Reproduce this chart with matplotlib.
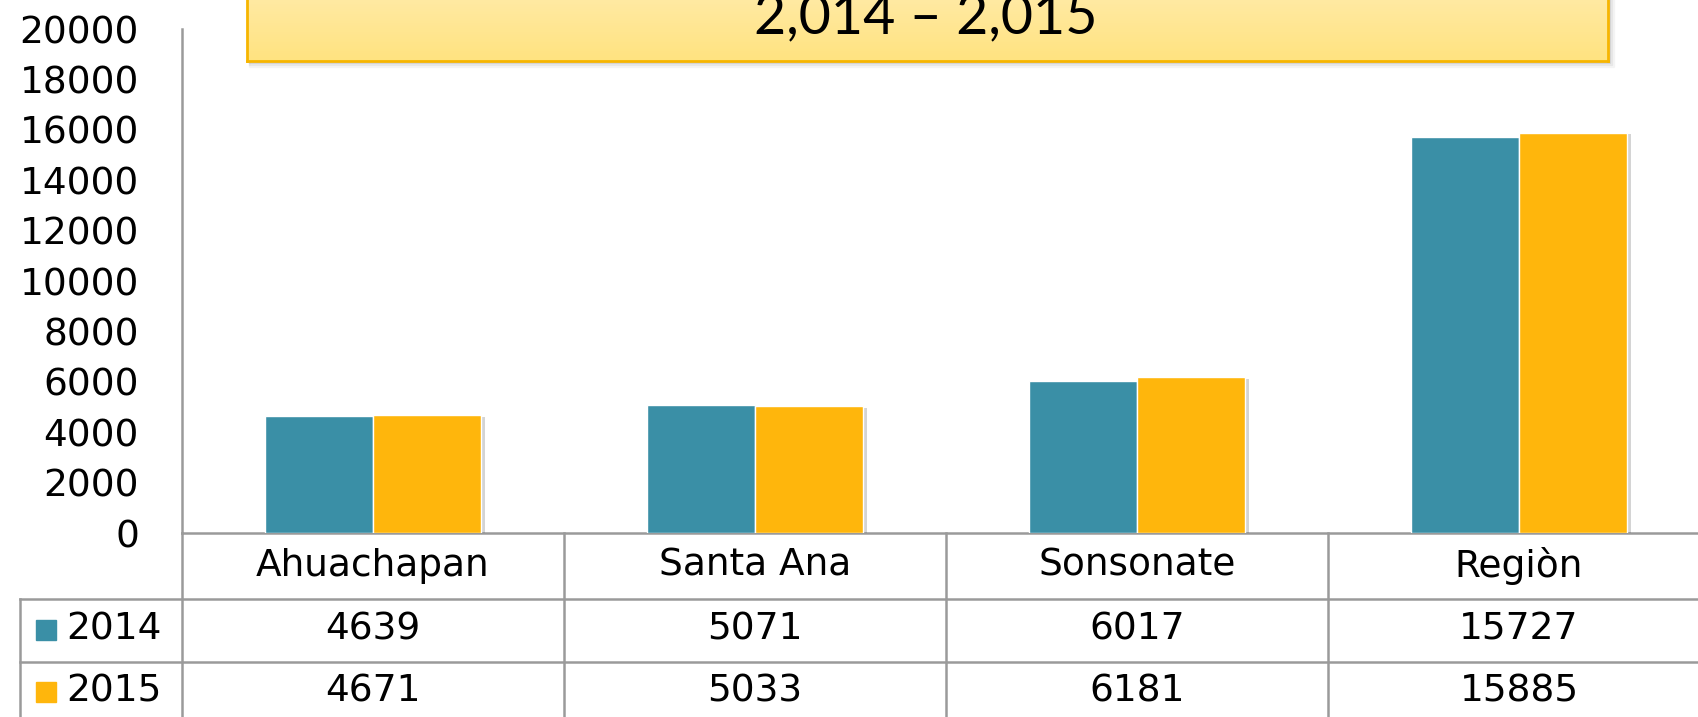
"""Bar chart with data table: 2,014 - 2,015 by department."""

import matplotlib

matplotlib.use("Agg")
import matplotlib.pyplot as plt
import matplotlib.patheffects as pe
import numpy as np
from matplotlib.lines import Line2D
from matplotlib.patches import Rectangle
from matplotlib.transforms import blended_transform_factory

TITLE = "2,014 \u2013 2,015"
CATEGORIES = ["Ahuachapan", "Santa Ana", "Sonsonate", "Regiòn"]
YEARS = ["2014", "2015"]
VALUES_2014 = [4639, 5071, 6017, 15727]
VALUES_2015 = [4671, 5033, 6181, 15885]
Y_TICKS = list(range(0, 20001, 2000))

COLORS = ["#3A8FA6", "#FFB60C"]
GRID_GRAY = "#9A9A9A"
W, H = 1699, 717


def fx(px):
    return px / W


def fy(py):
    return 1 - py / H


fig = plt.figure(figsize=(W / 100, H / 100), dpi=100)
plt.rcParams["font.family"] = ["DejaVu Sans"]

ax = fig.add_axes([fx(182), fy(533), fx(1699 - 182), (533 - 29) / H])
x = np.arange(len(CATEGORIES))
width = 0.283
shadow = [pe.SimplePatchShadow(offset=(3, -1), alpha=0.25, shadow_rgbFace="#555555"), pe.Normal()]
for i, (vals, color) in enumerate(zip([VALUES_2014, VALUES_2015], COLORS)):
    offset = (i - 0.5) * width
    bars = ax.bar(x + offset, vals, width, color=color, edgecolor="white", linewidth=1.0, zorder=3)
    for bar in bars:
        bar.set_path_effects(shadow)

ax.set_xlim(-0.5, -0.5 + (1699 - 182) / 382)
ax.set_ylim(0, 20000)
ax.set_yticks(Y_TICKS)
ax.set_yticklabels([str(v) for v in Y_TICKS], fontsize=27)
ax.tick_params(axis="y", length=0, pad=31)
ax.set_xticks([])
for side in ("top", "right"):
    ax.spines[side].set_visible(False)
for side in ("left", "bottom"):
    ax.spines[side].set_color(GRID_GRAY)
    ax.spines[side].set_linewidth(1.8)

# data table under the axis
trans = blended_transform_factory(ax.transData, fig.transFigure)
table_bottom = fy(717)
for b in np.arange(0.5, len(CATEGORIES) - 0.5, 1.0):
    ax.plot([b, b], [fy(533), table_bottom], transform=trans, color=GRID_GRAY,
            linewidth=1.8, clip_on=False)
ax.plot([-0.5, -0.5], [fy(533), table_bottom], transform=trans, color=GRID_GRAY,
        linewidth=1.8, clip_on=False)
for py in (599, 662):
    fig.add_artist(Line2D([fx(20), 1], [fy(py), fy(py)], color=GRID_GRAY, linewidth=1.8))
fig.add_artist(Line2D([fx(20), fx(20)], [fy(599), table_bottom], color=GRID_GRAY, linewidth=1.8))

for i, name in enumerate(CATEGORIES):
    ax.text(i, fy(566), name, transform=trans, ha="center", va="center", fontsize=27)
    ax.text(i, fy(630), str(VALUES_2014[i]), transform=trans, ha="center", va="center", fontsize=27)
    ax.text(i, fy(692), str(VALUES_2015[i]), transform=trans, ha="center", va="center", fontsize=27)

for row_y, year, color in zip((630, 692), YEARS, COLORS):
    fig.add_artist(Rectangle((fx(36), fy(row_y + 10)), fx(20), 20 / H, color=color,
                             transform=fig.transFigure))
    fig.text(fx(66), fy(row_y), year, ha="left", va="center", fontsize=27)

# title box
box_left, box_right, box_bottom = 247, 1608, 61
for k, a in enumerate((0.10, 0.07, 0.04)):
    fig.add_artist(Rectangle((fx(box_left + 2), fy(box_bottom + 2 + 2 * k)),
                             fx(box_right - box_left + 2 * k), box_bottom / H + 0.05,
                             color="#555555", alpha=a, transform=fig.transFigure, zorder=1))
box_ax = fig.add_axes([fx(box_left), fy(box_bottom), fx(box_right - box_left), box_bottom / H + 0.02])
gradient = np.linspace(0, 1, 64).reshape(-1, 1)
cmap = matplotlib.colors.LinearSegmentedColormap.from_list("box", ["#FFE380", "#FFEBAA"])
box_ax.imshow(gradient, aspect="auto", cmap=cmap, origin="lower", extent=[0, 1, 0, 1])
box_ax.set_xticks([])
box_ax.set_yticks([])
for spine in box_ax.spines.values():
    spine.set_color("#F7B500")
    spine.set_linewidth(2)
box_ax.set_zorder(2)
fig.text(fx(926), fy(33), TITLE, ha="center", va="baseline", fontsize=40,
         family=["Lato", "DejaVu Sans"], zorder=5)

fig.savefig("out.png", dpi=100)
